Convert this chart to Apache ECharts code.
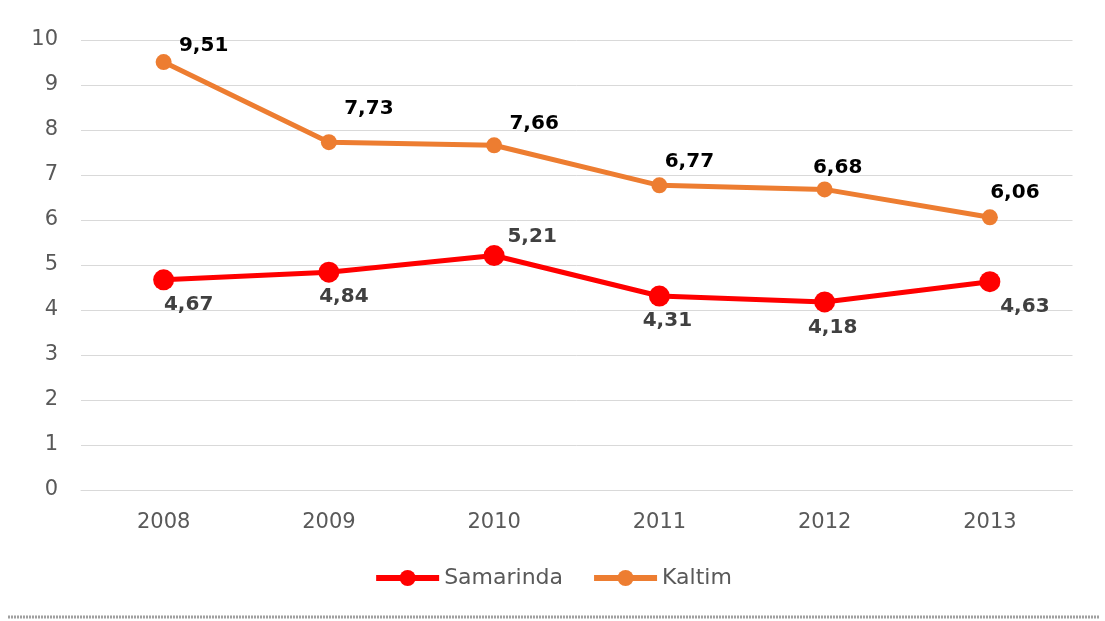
<!DOCTYPE html>
<html>
<head>
<meta charset="utf-8">
<script src="https://cdn.jsdelivr.net/npm/echarts@6/dist/echarts.min.js"></script>
<style>html,body{margin:0;padding:0;background:#fff}#c{width:1105px;height:621px}</style>
</head>
<body>
<div id="c"></div>
<script>
var categories = ['2008','2009','2010','2011','2012','2013'];
var samarinda = [4.67, 4.84, 5.21, 4.31, 4.18, 4.63];
var kaltim = [9.51, 7.73, 7.66, 6.77, 6.68, 6.06];
var samarindaOffsets = [[25,25],[15,25],[38,-19],[8,25],[8,26],[35,25]];
var kaltimOffsets = [[40,-16],[40,-33],[40,-22],[30,-24],[13,-22],[25,-25]];

function fmt(v){ return v.toFixed(2).replace('.', ','); }
function build(vals, offs, color){
  return vals.map(function(v,i){
    return {value:v, label:{show:true, position:'inside', offset:offs[i], formatter:fmt(v), color:color,
      fontFamily:'DejaVu Sans', fontWeight:'bold', fontSize:20}};
  });
}
var chart = echarts.init(document.getElementById('c'));
chart.setOption({
  animation:false,
  backgroundColor:'#fff',
  grid:{left:81, right:32.5, top:40, bottom:131, containLabel:false},
  xAxis:{type:'category', data:categories, boundaryGap:true,
    axisLine:{lineStyle:{color:'#d9d9d9', width:1}}, axisTick:{show:false},
    axisLabel:{color:'#595959', fontSize:21, fontFamily:'DejaVu Sans', margin:22}},
  yAxis:{type:'value', min:0, max:10, interval:1,
    axisLine:{show:false}, axisTick:{show:false},
    splitLine:{lineStyle:{color:'#d9d9d9', width:1}},
    axisLabel:{color:'#595959', fontSize:21, fontFamily:'DejaVu Sans', margin:23}},
  legend:{bottom:27, left:'center', itemGap:28, itemWidth:63, itemHeight:20,
    textStyle:{color:'#595959', fontSize:22, fontFamily:'DejaVu Sans'},
    lineStyle:{width:6},
    data:['Samarinda','Kaltim']},
  series:[
    {name:'Samarinda', type:'line', data:build(samarinda, samarindaOffsets, '#404040'),
      symbol:'circle', symbolSize:21, color:'#FF0000',
      lineStyle:{width:5, color:'#FF0000'}, itemStyle:{color:'#FF0000'}},
    {name:'Kaltim', type:'line', data:build(kaltim, kaltimOffsets, '#000000'),
      symbol:'circle', symbolSize:16, color:'#ED7D31',
      lineStyle:{width:5, color:'#ED7D31'}, itemStyle:{color:'#ED7D31'}}
  ],
  graphic:[{type:'line', shape:{x1:8,y1:617,x2:1100,y2:617},
    style:{stroke:'#a0a0a0', lineWidth:3, lineDash:[2,1]}}]
});
</script>
</body>
</html>
